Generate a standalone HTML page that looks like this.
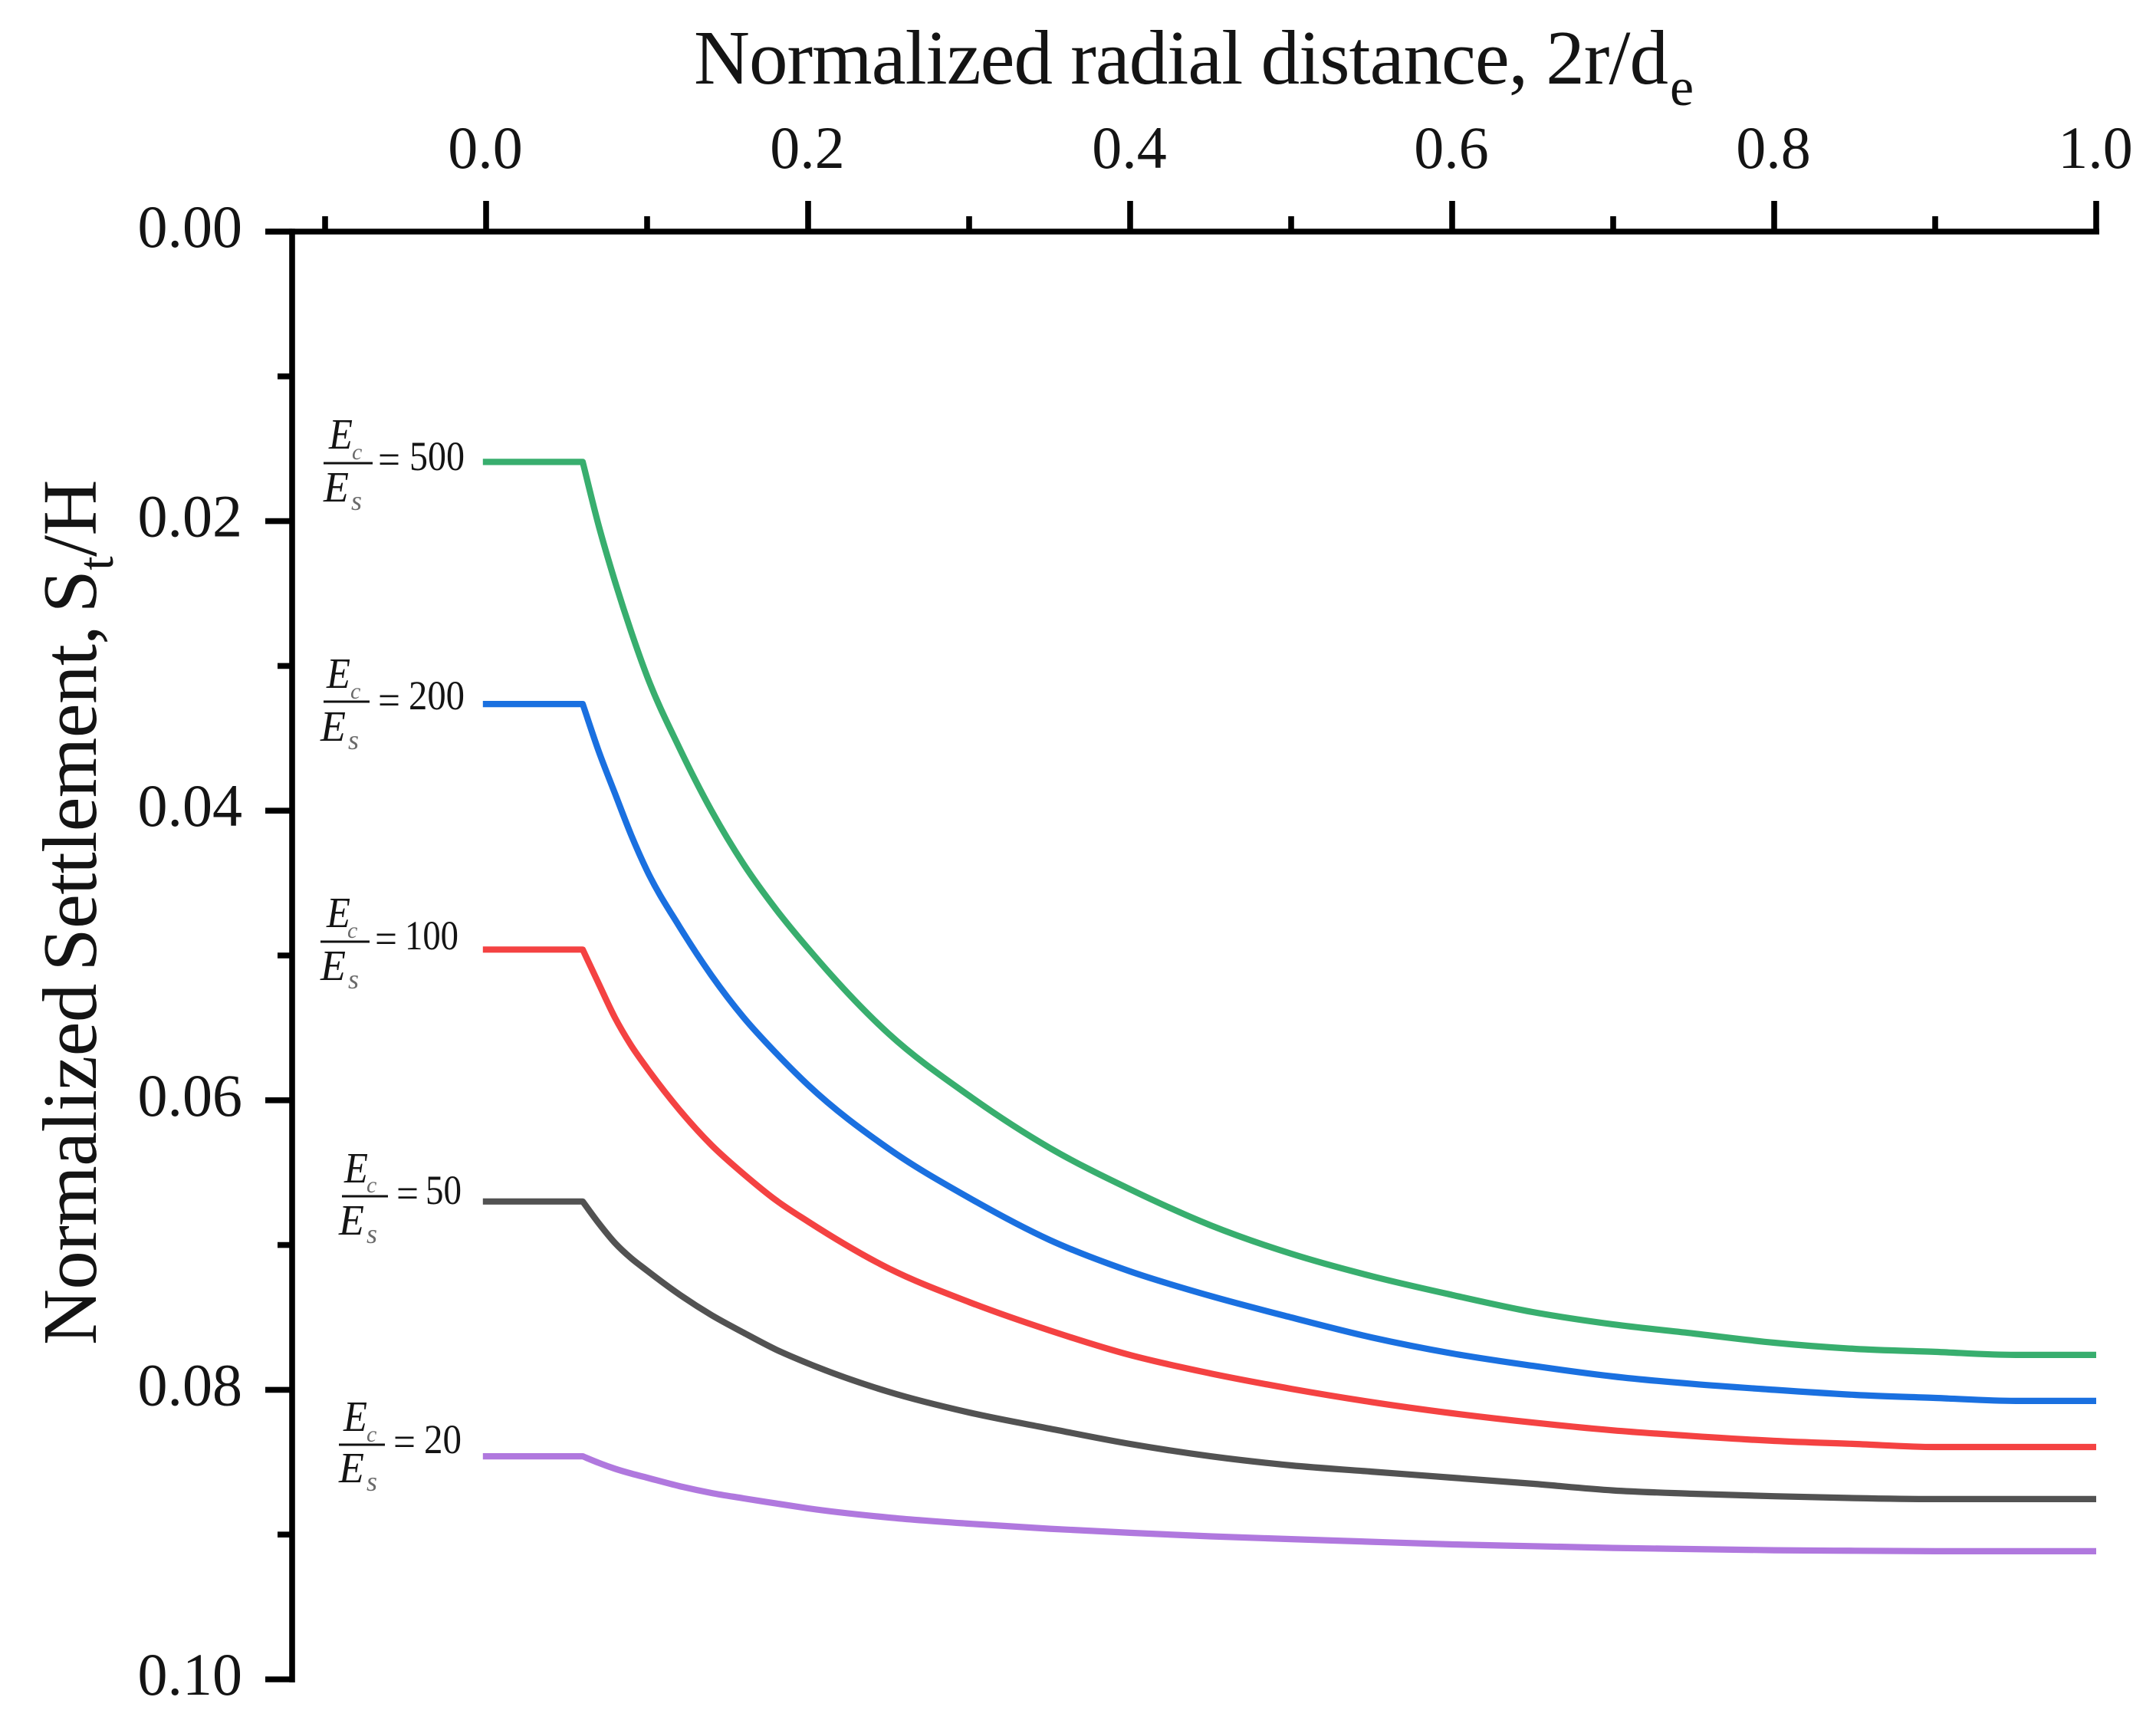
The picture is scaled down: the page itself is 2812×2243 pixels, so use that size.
<!DOCTYPE html>
<html lang="en">
<head>
<meta charset="utf-8">
<title>Normalized settlement versus normalized radial distance</title>
<style>
html,body{margin:0;padding:0;background:#fff;}
svg{display:block;}
text{font-family:"Liberation Serif",serif;fill:#141414;}
.fe{font-style:italic;font-size:56px;}
.fs{font-style:italic;font-size:36px;fill:#6a6a6a;}
.fc{font-style:italic;font-size:30px;fill:#6a6a6a;}
.fv{font-size:54px;}
</style>
</head>
<body>
<svg id="chart" width="2812" height="2243" viewBox="0 0 2812 2243" xmlns="http://www.w3.org/2000/svg">
  <rect x="0" y="0" width="2812" height="2243" fill="#ffffff"/>
  <text x="905" y="109" font-size="101"><tspan textLength="1271" lengthAdjust="spacing">Normalized radial distance, 2r/d</tspan></text>
  <text x="2178" y="137" font-size="70">e</text>
  <text transform="translate(125,1754) rotate(-90)" x="0" y="0" font-size="101" word-spacing="-8" letter-spacing="-0.6">Normalized Settlement, S<tspan font-size="66" dy="22">t</tspan><tspan dy="-22">/H</tspan></text>

  <g id="axes"></g>
  <g id="series"></g>

  <g>
    <text class="fe" x="429" y="585" textLength="31" lengthAdjust="spacingAndGlyphs">E</text><text class="fc" x="459" y="599">c</text>
    <rect x="422" y="602.5" width="64" height="3" fill="#111"/>
    <text class="fe" x="422" y="654" textLength="33" lengthAdjust="spacingAndGlyphs">E</text><text class="fs" x="458" y="665">s</text>
    <text class="fv" x="493" y="617" textLength="29" lengthAdjust="spacingAndGlyphs">=</text>
    <text class="fv" x="534" y="613" textLength="72" lengthAdjust="spacingAndGlyphs">500</text>
  </g>
  <g>
    <text class="fe" x="426" y="897" textLength="31" lengthAdjust="spacingAndGlyphs">E</text><text class="fc" x="457" y="911">c</text>
    <rect x="422" y="913.5" width="60" height="3" fill="#111"/>
    <text class="fe" x="418" y="966" textLength="33" lengthAdjust="spacingAndGlyphs">E</text><text class="fs" x="454" y="977">s</text>
    <text class="fv" x="493" y="931" textLength="29" lengthAdjust="spacingAndGlyphs">=</text>
    <text class="fv" x="533" y="925" textLength="73" lengthAdjust="spacingAndGlyphs">200</text>
  </g>
  <g>
    <text class="fe" x="426" y="1209" textLength="31" lengthAdjust="spacingAndGlyphs">E</text><text class="fc" x="453" y="1223">c</text>
    <rect x="418" y="1226.5" width="64" height="3" fill="#111"/>
    <text class="fe" x="418" y="1278" textLength="33" lengthAdjust="spacingAndGlyphs">E</text><text class="fs" x="454" y="1289">s</text>
    <text class="fv" x="489" y="1242" textLength="29" lengthAdjust="spacingAndGlyphs">=</text>
    <text class="fv" x="528" y="1238" textLength="70" lengthAdjust="spacingAndGlyphs">100</text>
  </g>
  <g>
    <text class="fe" x="449" y="1542" textLength="31" lengthAdjust="spacingAndGlyphs">E</text><text class="fc" x="478" y="1555">c</text>
    <rect x="446" y="1558.5" width="60" height="3" fill="#111"/>
    <text class="fe" x="442" y="1610" textLength="33" lengthAdjust="spacingAndGlyphs">E</text><text class="fs" x="478" y="1621">s</text>
    <text class="fv" x="517" y="1574" textLength="29" lengthAdjust="spacingAndGlyphs">=</text>
    <text class="fv" x="555" y="1570" textLength="47" lengthAdjust="spacingAndGlyphs">50</text>
  </g>
  <g>
    <text class="fe" x="448" y="1866" textLength="31" lengthAdjust="spacingAndGlyphs">E</text><text class="fc" x="478" y="1880">c</text>
    <rect x="442" y="1882.5" width="60" height="3" fill="#111"/>
    <text class="fe" x="442" y="1933" textLength="33" lengthAdjust="spacingAndGlyphs">E</text><text class="fs" x="478" y="1944">s</text>
    <text class="fv" x="513" y="1898" textLength="29" lengthAdjust="spacingAndGlyphs">=</text>
    <text class="fv" x="553" y="1895" textLength="49" lengthAdjust="spacingAndGlyphs">20</text>
  </g>
</svg>

<script>
const radialDistance = [-0.002, 0.06, 0.07, 0.08, 0.09, 0.10, 0.12, 0.14, 0.16, 0.18, 0.20, 0.25, 0.30, 0.35, 0.40, 0.45, 0.50, 0.55, 0.60, 0.65, 0.70, 0.75, 0.80, 0.85, 0.90, 0.95, 1.00];
const settlementRatio500 = [.01591,.01591,.02034,.02415,.02760,.03072,.03565,.04000,.04370,.04680,.04952,.05540,.05969,.06329,.06615,.06864,.07060,.07215,.07345,.07463,.07548,.07611,.07675,.07717,.07738,.07759,.07759];
const settlementRatio200 = [.03263,.03263,.03591,.03880,.04165,.04415,.04799,.05138,.05429,.05673,.05895,.06335,.06674,.06965,.07182,.07352,.07500,.07638,.07749,.07834,.07908,.07960,.08000,.08035,.08056,.08077,.08077];
const settlementRatio100 = [.04959,.04959,.05196,.05429,.05620,.05779,.06065,.06310,.06510,.06690,.06838,.07161,.07394,.07590,.07760,.07887,.07993,.08085,.08162,.08226,.08280,.08320,.08353,.08374,.08395,.08395,.08395];
const settlementRatio50 = [.06699,.06699,.06850,.06985,.07090,.07177,.07341,.07484,.07606,.07722,.07818,.08014,.08157,.08268,.08374,.08459,.08522,.08565,.08607,.08649,.08695,.08718,.08735,.08748,.08755,.08755,.08755];
const settlementRatio20 = [.08459,.08459,.08505,.08545,.08578,.08607,.08665,.08713,.08750,.08785,.08819,.08882,.08925,.08960,.08988,.09012,.09031,.09050,.09068,.09080,.09092,.09100,.09108,.09112,.09115,.09115,.09115];
const xMajorTicks = [0, 0.2, 0.4, 0.6, 0.8, 1.0];
const xMajorLabels = ["0.0", "0.2", "0.4", "0.6", "0.8", "1.0"];
const xMinorTicks = [-0.1, 0.1, 0.3, 0.5, 0.7, 0.9];
const yMajorTicks = [0, 0.02, 0.04, 0.06, 0.08, 0.10];
const yMajorLabels = ["0.00", "0.02", "0.04", "0.06", "0.08", "0.10"];
const yMinorTicks = [0.01, 0.03, 0.05, 0.07, 0.09];

const NS = "http://www.w3.org/2000/svg";
const xScale = v => 634 + 2100 * v;
const yScale = v => 302 + 18880 * v;
const axesGroup = document.getElementById("axes");
const seriesGroup = document.getElementById("series");

function addLine(x1, y1, x2, y2, name) {
  const el = document.createElementNS(NS, "line");
  el.setAttribute("x1", x1);
  el.setAttribute("y1", y1);
  el.setAttribute("x2", x2);
  el.setAttribute("y2", y2);
  el.setAttribute("stroke", "#000");
  el.setAttribute("stroke-width", "7.6");
  
  
  axesGroup.appendChild(el);
}
function addLabel(x, y, anchor, text, name) {
  const el = document.createElementNS(NS, "text");
  el.setAttribute("x", x);
  el.setAttribute("y", y);
  el.setAttribute("text-anchor", anchor);
  el.setAttribute("font-size", "78");
  el.textContent = text;
  
  
  axesGroup.appendChild(el);
}

addLine(346, yScale(0), xScale(1) + 4, yScale(0), "x-axis-line");
addLine(381, yScale(0) - 3.8, 381, yScale(0.1) + 4, "y-axis-line");

xMajorTicks.forEach((v, i) => {
  addLine(xScale(v), yScale(0) - 40, xScale(v), yScale(0), "x-major-tick");
  addLabel(xScale(v) - 1, 219, "middle", xMajorLabels[i], "x-tick-label");
});
xMinorTicks.forEach(v => {
  addLine(xScale(v), yScale(0) - 20, xScale(v), yScale(0), "x-minor-tick");
});
yMajorTicks.forEach((v, i) => {
  addLine(346, yScale(v), 381, yScale(v), "y-major-tick");
  addLabel(316, yScale(v) + 20, "end", yMajorLabels[i], "y-tick-label");
});
yMinorTicks.forEach(v => {
  addLine(362, yScale(v), 381, yScale(v), "y-minor-tick");
});

function curvePath(values) {
  const px = radialDistance.map(xScale);
  const py = values.map(yScale);
  const n = px.length;
  const s = [];
  for (let i = 1; i < n - 1; i++) s[i] = (py[i + 1] - py[i]) / (px[i + 1] - px[i]);
  const t = [];
  t[1] = s[1];
  t[n - 1] = s[n - 2];
  for (let i = 2; i < n - 1; i++) {
    const h0 = px[i] - px[i - 1];
    const h1 = px[i + 1] - px[i];
    t[i] = (s[i - 1] <= 0 || s[i] <= 0) ? 0 : (h1 * s[i - 1] + h0 * s[i]) / (h0 + h1);
  }
  let d = "M" + px[0].toFixed(1) + " " + py[0].toFixed(1) + "L" + px[1].toFixed(1) + " " + py[1].toFixed(1);
  for (let i = 1; i < n - 1; i++) {
    const h = (px[i + 1] - px[i]) / 3;
    d += "C" + (px[i] + h).toFixed(1) + " " + (py[i] + t[i] * h).toFixed(1) + " " +
         (px[i + 1] - h).toFixed(1) + " " + (py[i + 1] - t[i + 1] * h).toFixed(1) + " " +
         px[i + 1].toFixed(1) + " " + py[i + 1].toFixed(1);
  }
  return d;
}
function drawCurve(values, color, name) {
  const el = document.createElementNS(NS, "path");
  el.setAttribute("d", curvePath(values));
  el.setAttribute("fill", "none");
  el.setAttribute("stroke", color);
  el.setAttribute("stroke-width", "8.2");
  el.setAttribute("stroke-linejoin", "round");
  
  
  seriesGroup.appendChild(el);
}
drawCurve(settlementRatio500, "#38AE6E", "curve-ec-es-500");
drawCurve(settlementRatio200, "#1A70E0", "curve-ec-es-200");
drawCurve(settlementRatio100, "#F44242", "curve-ec-es-100");
drawCurve(settlementRatio50, "#525252", "curve-ec-es-50");
drawCurve(settlementRatio20, "#B078DE", "curve-ec-es-20");
</script>
</body>
</html>
